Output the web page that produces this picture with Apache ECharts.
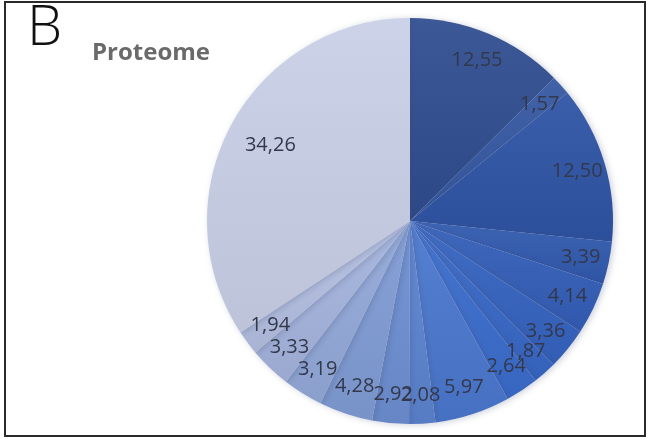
<!DOCTYPE html>
<html>
<head>
<meta charset="utf-8">
<script src="https://cdn.jsdelivr.net/npm/echarts@6/dist/echarts.min.js"></script>
<style>
  html, body { margin: 0; padding: 0; background: #ffffff; }
  #chart { width: 648px; height: 439px; }
</style>
</head>
<body>
<div id="chart"></div>
<script>
// Proteome composition, share in percent (clockwise from 12 o'clock)
const sliceValues = [12.55, 1.57, 12.50, 3.39, 4.14, 3.36, 1.87, 2.64, 5.97, 2.08, 2.92, 4.28, 3.19, 3.33, 1.94, 34.26];
const sliceLabels = ['12,55', '1,57', '12,50', '3,39', '4,14', '3,36', '1,87', '2,64', '5,97', '2,08', '2,92', '4,28', '3,19', '3,33', '1,94', '34,26'];
const sliceColors = [
  '#304d90', '#3658a2', '#2f54a6', '#3159ae', '#335eb8', '#3563c0', '#3767c6', '#3a6ccd',
  '#4a78cf', '#5b84d0', '#6d8fd2', '#809cd5', '#93a9d9', '#a5b4dd', '#b4bfe1', '#c9d0e7'
];
const panelLetter = 'B';
const chartTitle = 'Proteome';

// blend a hex colour towards white (amt > 0) or black (amt < 0)
function shade(hex, amt) {
  const n = parseInt(hex.slice(1), 16);
  const ch = [(n >> 16) & 255, (n >> 8) & 255, n & 255].map(c => {
    const v = amt >= 0 ? c + (255 - c) * amt : c * (1 + amt);
    return Math.round(Math.max(0, Math.min(255, v)));
  });
  return 'rgb(' + ch.join(',') + ')';
}

const chart = echarts.init(document.getElementById('chart'), null, { renderer: 'canvas' });

const pieData = sliceValues.map((v, i) => ({
  value: v,
  name: sliceLabels[i],
  itemStyle: {
    color: new echarts.graphic.LinearGradient(0, 0, 0, 1, [
      { offset: 0, color: shade(sliceColors[i], 0.06) },
      { offset: 1, color: shade(sliceColors[i], -0.06) }
    ])
  }
}));

const labelData = sliceValues.map((v, i) => ({ value: v, name: sliceLabels[i] }));

chart.setOption({
  animation: false,
  title: {
    text: chartTitle,
    left: 87,
    top: 36,
    textStyle: {
      fontFamily: 'Open Sans',
      fontWeight: 'bold',
      fontSize: 24,
      color: '#6a6a6a'
    }
  },
  graphic: [
    {
      type: 'rect',
      shape: { x: 5, y: 2, width: 640, height: 434 },
      style: { fill: 'none', stroke: '#2a2a2a', lineWidth: 2 },
      silent: true
    },
    {
      type: 'text',
      left: 27,
      top: 1,
      style: {
        text: panelLetter,
        font: '300 56px "Open Sans"',
        fill: '#111111'
      }
    }
  ],
  series: [
    {
      type: 'pie',
      center: [410, 221],
      radius: [0, 203],
      startAngle: 90,
      clockwise: true,
      data: pieData,
      label: { show: false },
      labelLine: { show: false },
      itemStyle: {
        borderWidth: 0,
        shadowBlur: 6,
        shadowColor: 'rgba(60,70,110,0.25)',
        shadowOffsetX: 2,
        shadowOffsetY: 1
      },
      emphasis: { disabled: true }
    },
    {
      type: 'pie',
      center: [410, 221],
      radius: [140, 203],
      startAngle: 90,
      clockwise: true,
      data: labelData,
      silent: true,
      itemStyle: { color: 'rgba(0,0,0,0)' },
      label: {
        show: true,
        position: 'inside',
        formatter: '{b}',
        fontFamily: 'Open Sans',
        fontSize: 20,
        color: '#33384c'
      },
      labelLine: { show: false },
      labelLayout: function (params) {
        if (params.dataIndex === sliceValues.length - 1) {
          return { dx: 14, dy: 7 };
        }
        return {};
      },
      emphasis: { disabled: true }
    }
  ]
});
</script>
</body>
</html>
